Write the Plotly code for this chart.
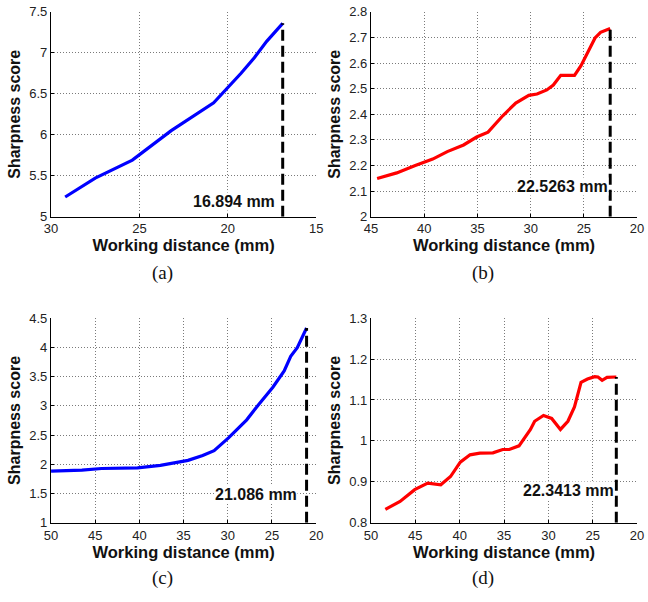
import plotly.graph_objects as go

# Panel (a): blue focus curve
dist_a = [29.2, 27.5, 25.4, 23.2, 20.8, 20.0, 19.25, 18.5, 17.8, 16.894]
score_a = [5.24, 5.47, 5.69, 6.05, 6.39, 6.575, 6.75, 6.94, 7.14, 7.36]
peak_a = 16.894

# Panel (b): red focus curve
dist_b = [44.42, 42.58, 40.9, 39.2, 37.83, 36.3, 35.07, 34.0, 32.62, 31.4, 30.17,
          29.4, 28.48, 27.87, 27.17, 25.88, 25.27, 24.66, 23.95, 23.43, 22.67, 22.5263]
score_b = [2.149, 2.171, 2.199, 2.225, 2.254, 2.28, 2.311, 2.33, 2.394, 2.444, 2.474,
           2.479, 2.495, 2.514, 2.552, 2.552, 2.59, 2.641, 2.698, 2.72, 2.732, 2.735]
peak_b = 22.5263

# Panel (c): blue focus curve
dist_c = [50.0, 46.5, 44.28, 40.22, 37.63, 35.8, 34.5, 32.84, 31.55, 29.89, 27.86,
          26.57, 24.9, 23.62, 22.88, 22.14, 21.11, 21.086]
score_c = [1.883, 1.9, 1.928, 1.938, 1.983, 2.04, 2.067, 2.15, 2.233, 2.455, 2.76,
           3.01, 3.317, 3.595, 3.845, 3.995, 4.33, 4.33]
peak_c = 21.086

# Panel (d): red focus curve
dist_d = [48.38, 46.72, 45.07, 43.6, 42.13, 41.03, 39.93, 38.83, 37.72, 36.25, 35.15,
          34.41, 33.31, 32.57, 32.02, 31.55, 30.55, 29.63, 28.64, 27.8, 27.06, 26.32,
          25.59, 24.78, 24.41, 23.94, 23.39, 22.47, 22.3413]
score_d = [0.833, 0.852, 0.881, 0.897, 0.893, 0.913, 0.948, 0.966, 0.97, 0.971, 0.979,
           0.979, 0.988, 1.012, 1.028, 1.048, 1.062, 1.055, 1.028, 1.048, 1.083, 1.143,
           1.151, 1.157, 1.156, 1.148, 1.155, 1.156, 1.156]
peak_d = 22.3413

panels = [
    dict(x=dist_a, y=score_a, peak=peak_a, color="#0000FF", xr=[30, 15], xt=[30, 25, 20, 15],
         yr=[5, 7.5], yt=[5, 5.5, 6, 6.5, 7, 7.5], ylab=["5", "5.5", "6", "6.5", "7", "7.5"],
         label="16.894 mm", ly=5.18, shift=-7, cap="(a)"),
    dict(x=dist_b, y=score_b, peak=peak_b, color="#FF0000", xr=[45, 20], xt=[45, 40, 35, 30, 25, 20],
         yr=[2, 2.8], yt=[2, 2.1, 2.2, 2.3, 2.4, 2.5, 2.6, 2.7, 2.8],
         ylab=["2", "2.1", "2.2", "2.3", "2.4", "2.5", "2.6", "2.7", "2.8"],
         label="22.5263 mm", ly=2.118, shift=-1, cap="(b)"),
    dict(x=dist_c, y=score_c, peak=peak_c, color="#0000FF", xr=[50, 20], xt=[50, 45, 40, 35, 30, 25, 20],
         yr=[1, 4.5], yt=[1, 1.5, 2, 2.5, 3, 3.5, 4, 4.5],
         ylab=["1", "1.5", "2", "2.5", "3", "3.5", "4", "4.5"],
         label="21.086 mm", ly=1.483, shift=-9, cap="(c)"),
    dict(x=dist_d, y=score_d, peak=peak_d, color="#FF0000", xr=[50, 20], xt=[50, 45, 40, 35, 30, 25, 20],
         yr=[0.8, 1.3], yt=[0.8, 0.9, 1.0, 1.1, 1.2, 1.3],
         ylab=["0.8", "0.9", "1", "1.1", "1.2", "1.3"],
         label="22.3413 mm", ly=0.879, shift=-1, cap="(d)"),
]

W, H = 648, 602
# plot-area boxes in pixels: (left, right, top, bottom)
boxes = [(45, 316, 5, 215), (372, 644, 5, 215), (45, 316, 319, 529), (372, 644, 319, 529)]

sans = "Liberation Sans, Arial, Helvetica, sans-serif"
serif = "Liberation Serif, Times New Roman, serif"

fig = go.Figure()
layout = dict(
    width=W, height=H, margin=dict(l=0, r=0, t=0, b=0),
    paper_bgcolor="white", plot_bgcolor="white", showlegend=False,
    font=dict(family=sans, size=12, color="#222"),
)
annotations = []

for i, (p, (l, r, t, b)) in enumerate(zip(panels, boxes)):
    n = "" if i == 0 else str(i + 1)
    xa, ya = "x" + n, "y" + n
    fig.add_trace(go.Scatter(x=p["x"], y=p["y"], mode="lines", xaxis=xa, yaxis=ya,
                             line=dict(color=p["color"], width=3.2), hoverinfo="skip"))
    peak_score = p["y"][-1]
    fig.add_trace(go.Scatter(x=[p["peak"], p["peak"]], y=[p["yr"][0], peak_score], mode="lines",
                             xaxis=xa, yaxis=ya,
                             line=dict(color="black", width=3, dash="11px,5px"), hoverinfo="skip"))
    axis_common = dict(
        showline=True, linecolor="black", linewidth=1.2, mirror=False,
        ticks="inside", ticklen=3, tickcolor="black",
        showgrid=True, gridcolor="#7a7a7a", griddash="1px,2px", gridwidth=1,
        zeroline=False, tickfont=dict(family=sans, size=13, color="#222"),
    )
    layout["xaxis" + n] = dict(
        axis_common, domain=[l / W, r / W], anchor=ya, range=p["xr"],
        tickmode="array", tickvals=p["xt"], ticktext=[str(v) for v in p["xt"]],
        title=dict(text="<b>Working distance (mm)</b>", font=dict(family=sans, size=16.5, color="#111"),
                   standoff=1),
    )
    layout["yaxis" + n] = dict(
        axis_common, domain=[1 - b / H, 1 - t / H], anchor=xa, range=p["yr"],
        tickmode="array", tickvals=p["yt"], ticktext=p["ylab"],
        title=dict(text="<b>Sharpness score</b>", font=dict(family=sans, size=16, color="#111"),
                   standoff=4),
    )
    annotations.append(dict(
        x=p["peak"], y=p["ly"], xref=xa, yref=ya, text="<b>" + p["label"] + "</b>",
        showarrow=False, xanchor="right", yanchor="middle", xshift=p["shift"],
        bgcolor="white", borderpad=0,
        font=dict(family=sans, size=16, color="#111"),
    ))
    cy = 273 if i < 2 else 586
    annotations.append(dict(
        x=((l + r) / 2 + (-22 if i % 2 == 0 else -21)) / W, y=1 - cy / H, xref="paper", yref="paper",
        text=p["cap"], showarrow=False, xanchor="center", yanchor="middle",
        font=dict(family=serif, size=19, color="#111"),
    ))

layout["annotations"] = annotations
fig.update_layout(**layout)
fig.write_html("out.html")
